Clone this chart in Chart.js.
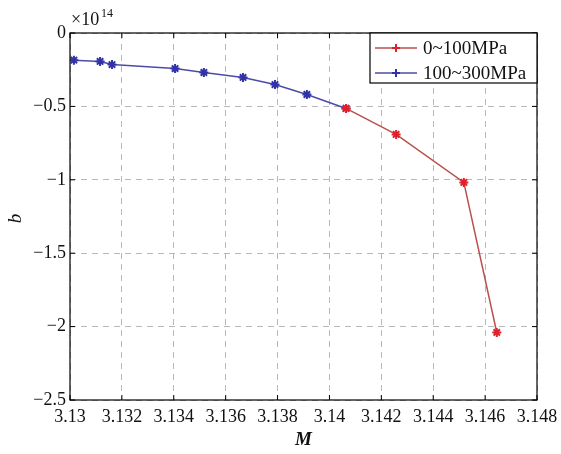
<!DOCTYPE html>
<html>
<head>
<meta charset="utf-8">
<script src="https://cdn.jsdelivr.net/npm/chart.js@4/dist/chart.umd.min.js"></script>
<style>
  html, body { margin: 0; padding: 0; background: #fff; }
  #wrap { width: 561px; height: 454px; }
</style>
</head>
<body>
<div id="wrap"><canvas id="chart" width="561" height="454"></canvas></div>
<script>
// data (b in units of 1e14)
const lowM = [3.14064, 3.14257, 3.14518, 3.14645];
const lowB = [-0.514, -0.691, -1.018, -2.040];
const highM = [3.13015, 3.13116, 3.13162, 3.13405, 3.13516, 3.13667, 3.13790, 3.13913, 3.14064];
const highB = [-0.185, -0.194, -0.215, -0.242, -0.269, -0.303, -0.351, -0.419, -0.514];
const seriesNames = ['0~100MPa', '100~300MPa'];
const xTicks = ['3.13', '3.132', '3.134', '3.136', '3.138', '3.14', '3.142', '3.144', '3.146', '3.148'];
const yTicks = ['\u22122.5', '\u22122', '\u22121.5', '\u22121', '\u22120.5', '0'];

const SERIF = '"Liberation Serif", "DejaVu Serif", serif';

function toPoints(xs, ys) {
    return xs.map((x, i) => ({ x: x, y: ys[i] }));
}

// frame, inward ticks, exponent label, axis titles and legend box
const decor = {
    id: 'decor',
    afterDraw(chart) {
        const ctx = chart.ctx;
        const a = chart.chartArea;
        const xs = chart.scales.x, ys = chart.scales.y;
        ctx.save();
        ctx.strokeStyle = '#000';
        ctx.lineWidth = 1.2;
        ctx.strokeRect(a.left, a.top, a.right - a.left, a.bottom - a.top);

        ctx.lineWidth = 1;
        xs.ticks.forEach(t => {
            const px = xs.getPixelForValue(t.value);
            ctx.beginPath();
            ctx.moveTo(px, a.bottom); ctx.lineTo(px, a.bottom - 5);
            ctx.moveTo(px, a.top); ctx.lineTo(px, a.top + 5);
            ctx.stroke();
        });
        ys.ticks.forEach(t => {
            const py = ys.getPixelForValue(t.value);
            ctx.beginPath();
            ctx.moveTo(a.left, py); ctx.lineTo(a.left + 5, py);
            ctx.moveTo(a.right, py); ctx.lineTo(a.right - 5, py);
            ctx.stroke();
        });

        // x10^14
        ctx.fillStyle = '#111';
        ctx.textBaseline = 'alphabetic';
        ctx.textAlign = 'left';
        ctx.font = '18px ' + SERIF;
        ctx.fillText('\u00d710', a.left + 1, 25);
        ctx.font = '12px ' + SERIF;
        ctx.fillText('14', a.left + 31, 17);

        // axis titles
        ctx.font = 'italic bold 19px ' + SERIF;
        ctx.textAlign = 'center';
        ctx.fillText('M', (a.left + a.right) / 2, 445);
        ctx.save();
        ctx.translate(21, (a.top + a.bottom) / 2 + 2);
        ctx.rotate(-Math.PI / 2);
        ctx.font = 'italic 19px ' + SERIF;
        ctx.fillText('b', 0, 0);
        ctx.restore();

        // legend
        const lx = 370, ly = a.top, lw = a.right - 370, lh = 50;
        ctx.fillStyle = '#fff';
        ctx.fillRect(lx, ly, lw, lh);
        ctx.strokeStyle = '#000';
        ctx.lineWidth = 1.2;
        ctx.strokeRect(lx, ly, lw, lh);
        chart.data.datasets.forEach((ds, i) => {
            const cy = ly + 15 + i * 25;
            ctx.strokeStyle = ds.borderColor;
            ctx.lineWidth = 1.5;
            ctx.beginPath();
            ctx.moveTo(lx + 5, cy); ctx.lineTo(lx + 47, cy);
            ctx.stroke();
            ctx.strokeStyle = ds.pointBorderColor;
            ctx.lineWidth = 2;
            ctx.beginPath();
            ctx.moveTo(lx + 26, cy - 4); ctx.lineTo(lx + 26, cy + 4);
            ctx.moveTo(lx + 22, cy); ctx.lineTo(lx + 30, cy);
            ctx.stroke();
            ctx.fillStyle = '#111';
            ctx.textAlign = 'left';
            ctx.textBaseline = 'middle';
            ctx.font = '19px ' + SERIF;
            ctx.fillText(ds.label, lx + 53, cy + 1);
        });
        ctx.restore();
    }
};

const ctx = document.getElementById('chart').getContext('2d');
new Chart(ctx, {
    type: 'scatter',
    data: {
        datasets: [
            {
                label: seriesNames[0],
                data: toPoints(lowM, lowB),
                showLine: true,
                borderColor: '#b8514c',
                borderWidth: 1.5,
                pointStyle: 'star',
                pointRadius: 4.5,
                pointBorderWidth: 2,
                pointBorderColor: '#e0202a',
                pointBackgroundColor: '#e0202a'
            },
            {
                label: seriesNames[1],
                data: toPoints(highM, highB),
                showLine: true,
                borderColor: '#4c4ca8',
                borderWidth: 1.5,
                pointStyle: 'star',
                pointRadius: 4.5,
                pointBorderWidth: 2,
                pointBorderColor: '#3232a8',
                pointBackgroundColor: '#3232a8'
            }
        ]
    },
    options: {
        responsive: false,
        animation: false,
        layout: { padding: { top: 33, right: 24, left: 0, bottom: 0 } },
        plugins: {
            legend: { display: false },
            tooltip: { enabled: false }
        },
        scales: {
            x: {
                type: 'linear',
                min: 3.13,
                max: 3.148,
                afterBuildTicks(scale) {
                    scale.ticks = xTicks.map(v => ({ value: parseFloat(v) }));
                },
                afterFit(scale) {
                    scale.height = 54;
                    scale.paddingLeft = 0;
                    scale.paddingRight = 0;
                },
                grid: {
                    color: '#b8b8b8',
                    lineWidth: 1,
                    drawTicks: false
                },
                border: { display: false, dash: [6, 5] },
                ticks: {
                    padding: 6,
                    color: '#111',
                    font: { family: SERIF, size: 18 },
                    maxRotation: 0,
                    autoSkip: false,
                    callback: (v, i) => xTicks[i]
                }
            },
            y: {
                type: 'linear',
                min: -2.5,
                max: 0,
                afterBuildTicks(scale) {
                    scale.ticks = yTicks.map(v => ({ value: parseFloat(v.replace('\u2212', '-')) }));
                },
                afterFit(scale) {
                    scale.width = 70;
                    scale.paddingTop = 0;
                    scale.paddingBottom = 0;
                },
                grid: {
                    color: '#b8b8b8',
                    lineWidth: 1,
                    drawTicks: false
                },
                border: { display: false, dash: [6, 5] },
                ticks: {
                    padding: 4,
                    color: '#111',
                    font: { family: SERIF, size: 18 },
                    autoSkip: false,
                    callback: (v, i) => yTicks[i]
                }
            }
        }
    },
    plugins: [decor]
});
</script>
</body>
</html>
